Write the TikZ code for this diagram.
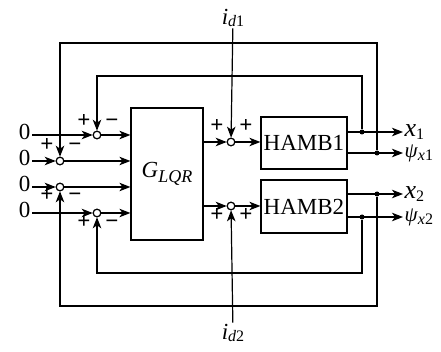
\documentclass[tikz,border=0pt]{standalone}
\usepackage{fontspec}
\setmainfont{Liberation Serif}
\usetikzlibrary{arrows.meta,calc}
\newcommand\sbs[2][3pt]{\raisebox{-#1}{\fontsize{16}{16}\selectfont #2}}
\begin{document}
\begin{tikzpicture}[x=1pt,y=-1pt,
  line width=1.2pt,
  arr/.style={-{Stealth[length=11pt,width=8.5pt,inset=3pt]}},
  sumpt/.style={circle,draw,fill=white,minimum size=7.5pt,inner sep=0pt,line width=1.1pt},
  dotpt/.style={circle,fill,minimum size=5pt,inner sep=0pt},
  blk/.style={draw,inner sep=0pt,font=\fontsize{23}{25}\selectfont},
  lbl/.style={inner sep=1pt,font=\fontsize{23}{25}\selectfont},
  olbl/.style={inner sep=1pt,text height=10pt,text depth=0pt,font=\fontsize{23}{25}\selectfont},
  sgn/.style={inner sep=0pt,text height=8pt,text depth=0pt,font=\fontsize{23}{23}\selectfont\bfseries}]
\useasboundingbox (0,0) rectangle (441,352);
% loop levels
\coordinate (otop) at (0,43);
\coordinate (itop) at (0,76);
\coordinate (ibot) at (0,273);
\coordinate (obot) at (0,306);
% inputs
\node[olbl,anchor=east] (z1) at (32,135) {0};
\node[olbl,anchor=east] (z2) at (32,161) {0};
\node[olbl,anchor=east] (z3) at (32,187) {0};
\node[olbl,anchor=east] (z4) at (32,213) {0};
% summing junctions (left)
\node[sumpt] (s1) at (97,135) {};
\node[sumpt] (s2) at (60,161) {};
\node[sumpt] (s3) at (60,187) {};
\node[sumpt] (s4) at (97,213) {};
% controller
\node[blk,minimum width=72pt,minimum height=132pt] (G) at (167,174) {\textit{G}\raisebox{-5pt}{\fontsize{18}{18}\selectfont\textit{LQR}}};
% summing junctions (disturbance)
\node[sumpt] (a1) at (231,142) {};
\node[sumpt] (a2) at (231,206) {};
% plants
\node[blk,minimum width=86pt,minimum height=52pt] (H1) at (304,143) {HAMB1};
\node[blk,minimum width=86pt,minimum height=53pt] (H2) at (304,206.5) {HAMB2};
% disturbance labels
\node[lbl] (d1) at (233,18) {\textit{i}\sbs[2pt]{\textit{d}1}};
\node[lbl] (d2) at (233,333) {\textit{i}\sbs[2pt]{\textit{d}2}};
% output labels
\node[olbl,anchor=west,font=\fontsize{26}{26}\selectfont] (X1) at (403,132) {\textit{x}\sbs{1}};
\node[olbl,anchor=west,font=\fontsize{21}{21}\selectfont] (P1) at (403,153) {\textit{ψ}\sbs{\textit{x}1}};
\node[olbl,anchor=west,font=\fontsize{26}{26}\selectfont] (X2) at (403,194) {\textit{x}\sbs{2}};
\node[olbl,anchor=west,font=\fontsize{21}{21}\selectfont] (P2) at (403,217) {\textit{ψ}\sbs{\textit{x}2}};
% branch points
\node[dotpt] (J1) at (362,132) {};
\node[dotpt] (J2) at (377,153) {};
\node[dotpt] (J3) at (377,194) {};
\node[dotpt] (J4) at (362,217) {};
% input connectors
\foreach \i in {1,2,3,4} {
  \draw[arr] (z\i) -- (s\i);
  \draw[arr] (s\i) -- (s\i -| G.west);
}
% controller to plants
\draw[arr] (G.east |- a1) -- (a1);
\draw[arr] (G.east |- a2) -- (a2);
\draw[arr] (a1) -- (a1 -| H1.west);
\draw[arr] (a2) -- (a2 -| H2.west);
\draw[arr] (d1) -- (a1);
\draw[arr] (d2) -- (a2);
% outputs
\draw[arr] (H1.east |- X1.west) -- (X1.west);
\draw[arr] (H1.east |- P1.west) -- (P1.west);
\draw[arr] (H2.east |- X2.west) -- (X2.west);
\draw[arr] (H2.east |- P2.west) -- (P2.west);
% feedback loops
\draw[arr] (J2) -- (J2 |- otop) -| (s2);
\draw[arr] (J1) -- (J1 |- itop) -| (s1);
\draw[arr] (J3) -- (J3 |- obot) -| (s3);
\draw[arr] (J4) -- (J4 |- ibot) -| (s4);
% redraw junction circles on top
\foreach \n in {s1,s2,s3,s4,a1,a2} { \node[sumpt] at (\n) {}; }
% signs
\node[sgn] (p1) at ($(s1)+(-13,-11)$) {+};
\node[sgn] (m1) at ($(s1)+(15,-11)$) {−};
\node[sgn] (p2) at ($(s2)+(-13,-13)$) {+};
\node[sgn] (m2) at ($(s2)+(15,-13)$) {−};
\node[sgn] (p3) at ($(s3)+(-13,11)$) {+};
\node[sgn] (m3) at ($(s3)+(15,11)$) {−};
\node[sgn] (p4) at ($(s4)+(-13,12)$) {+};
\node[sgn] (m4) at ($(s4)+(15,12)$) {−};
\node[sgn] (q1) at ($(a1)+(-14,-13)$) {+};
\node[sgn] (r1) at ($(a1)+(15,-13)$) {+};
\node[sgn] (q2) at ($(a2)+(-14,12)$) {+};
\node[sgn] (r2) at ($(a2)+(15,12)$) {+};
\end{tikzpicture}
\end{document}
